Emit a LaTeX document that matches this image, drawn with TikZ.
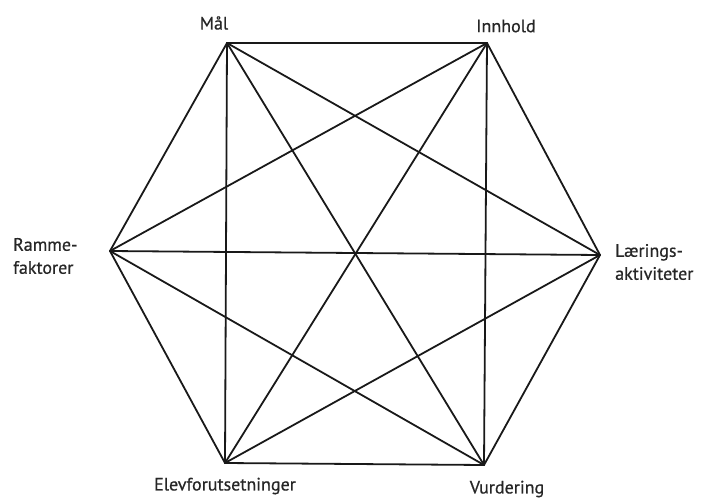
\documentclass[tikz,border=0pt]{standalone}
\usepackage{fontspec}
\setmainfont[FakeBold=0.6]{PT Sans}
\begin{document}
\begin{tikzpicture}[x=1pt,y=-1pt,
  lbl/.style={font=\fontsize{18}{23}\selectfont,inner sep=0pt,text=black!85},
  edge/.style={line width=1.8pt,line cap=round,black!90}]
\useasboundingbox (0,0) rectangle (718,498);
\coordinate (M) at (227,43);
\coordinate (I) at (487,43);
\coordinate (L) at (600,255);
\coordinate (V) at (484,465);
\coordinate (E) at (225,463);
\coordinate (R) at (110,251);
\foreach \a/\b in {M/I,M/L,M/V,M/E,M/R,I/L,I/V,I/E,I/R,L/V,L/E,L/R,V/E,V/R,E/R}
  \draw[edge] (\a) -- (\b);
\node[lbl] (tM) at (214,23) {Mål};
\node[lbl] (tI) at (506,26) {Innhold};
\node[lbl,align=left,anchor=west] (tR) at (13,256) {Ramme-\\faktorer};
\node[lbl,align=left,anchor=west] (tL) at (615,262) {Lærings-\\aktiviteter};
\node[lbl] (tE) at (225,486) {Elevforutsetninger};
\node[lbl] (tV) at (507,489) {Vurdering};
\end{tikzpicture}
\end{document}
